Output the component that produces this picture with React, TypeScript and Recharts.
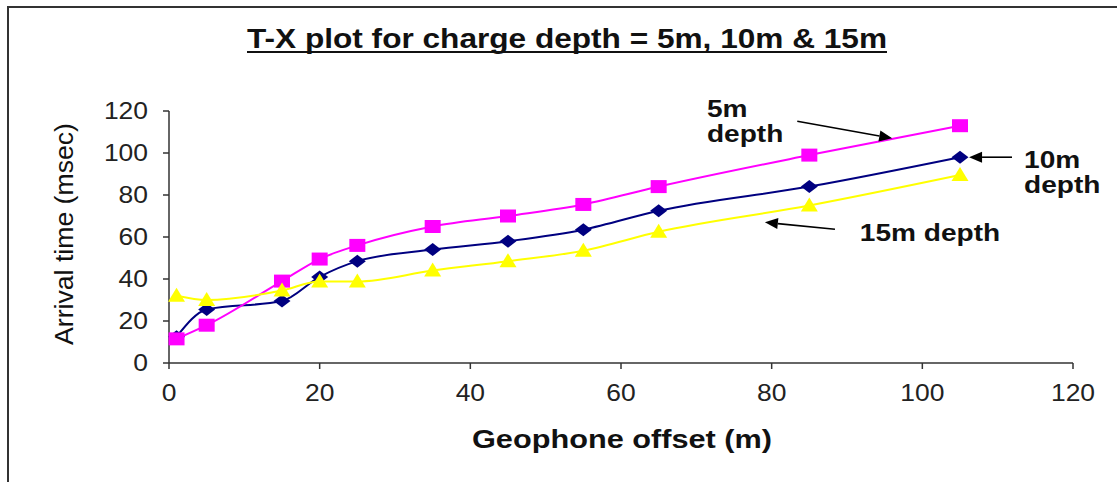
import React from 'react';
import { LineChart, Line, XAxis, YAxis, ReferenceLine, ReferenceDot } from 'recharts';

// geophone offsets (m) and arrival times (msec)
const offsets = [1, 5, 15, 20, 25, 35, 45, 55, 65, 85, 105];
const depth5m = [11.5, 18, 39, 49.5, 56, 65, 70, 75.5, 84, 99, 113];
const depth10m = [12.5, 25.5, 29.5, 41, 48.5, 54, 58, 63.5, 72.5, 84, 98];
const depth15m = [32, 30, 34.5, 38.8, 38.8, 44, 48.5, 53.5, 62.5, 75, 89.5];

const xTicks = [0, 20, 40, 60, 80, 100, 120];
const yTicks = [0, 20, 40, 60, 80, 100, 120];

// callouts, in data units
const arrows = [
    { id: 'a5', from: { x: 83.4, y: 115.1 }, to: { x: 96.0, y: 107.0 } },
    { id: 'a10', from: { x: 111.9, y: 98.0 }, to: { x: 106.2, y: 98.0 } },
    { id: 'a15', from: { x: 88.4, y: 63.7 }, to: { x: 79.1, y: 67.0 } },
];
const notes = [
    { id: 'n5a', text: '5m', x: 71.4, y: 121.3 },
    { id: 'n5b', text: 'depth', x: 71.4, y: 109.4 },
    { id: 'n10a', text: '10m', x: 113.5, y: 97.0 },
    { id: 'n10b', text: 'depth', x: 113.5, y: 85.1 },
    { id: 'n15', text: '15m depth', x: 91.7, y: 62.2 },
];

const data = offsets.map((x, i) => ({ x, d5: depth5m[i], d10: depth10m[i], d15: depth15m[i] }));

const FONT = '"Liberation Sans", Arial, sans-serif';

const XTick = (props: any) => {
    const { x, y, payload } = props;
    return (
        <text transform={`translate(${x},${y + 32}) scale(1.15,1)`} textAnchor="middle"
            fontFamily={FONT} fontSize={23} fill="#222">{payload.value}</text>
    );
};

const YTick = (props: any) => {
    const { x, y, payload } = props;
    return (
        <text transform={`translate(${x - 15},${y + 8}) scale(1.15,1)`} textAnchor="end"
            fontFamily={FONT} fontSize={23} fill="#222">{payload.value}</text>
    );
};

const Square = ({ cx, cy }: any) => (
    <rect x={cx - 8} y={cy - 6.5} width={16} height={13} fill="#FF00FF" />
);
const Diamond = ({ cx, cy }: any) => (
    <polygon points={`${cx - 8.5},${cy} ${cx},${cy - 6.5} ${cx + 8.5},${cy} ${cx},${cy + 6.5}`} fill="#000080" />
);
const Triangle = ({ cx, cy }: any) => (
    <polygon points={`${cx - 8.5},${cy + 6} ${cx},${cy - 8} ${cx + 8.5},${cy + 6}`} fill="#FFFF00" />
);

const ArrowShape = (props: any) => {
    const { x1, y1, x2, y2 } = props;
    const ang = Math.atan2(y2 - y1, x2 - x1);
    const len = 13, half = 5.5;
    const bx = x2 - len * Math.cos(ang), by = y2 - len * Math.sin(ang);
    const px = -Math.sin(ang) * half, py = Math.cos(ang) * half;
    return (
        <g>
            <line x1={x1} y1={y1} x2={bx} y2={by} stroke="#000" strokeWidth={1.6} />
            <polygon points={`${x2},${y2} ${bx + px},${by + py} ${bx - px},${by - py}`} fill="#000" />
        </g>
    );
};

const NoteText = (text: string) => (props: any) => (
    <text transform={`translate(${props.cx},${props.cy}) scale(1.17,1)`} dominantBaseline="central"
        fontFamily={FONT} fontWeight="bold" fontSize={24} fill="#111">{text}</text>
);

export default function App() {
    return (
        <div style={{ position: 'relative', width: 1117, height: 482, background: '#fff' }}>
            <style>{`body{margin:0}`}</style>
            <LineChart width={1117} height={482} data={data}
                margin={{ top: 111, right: 44, bottom: 89, left: 0 }}>
                <XAxis dataKey="x" type="number" domain={[0, 120]} ticks={xTicks} height={30}
                    tickSize={6} tickMargin={0} stroke="#333" strokeWidth={1.5} tick={<XTick />} />
                <YAxis type="number" domain={[0, 120]} ticks={yTicks} width={169}
                    tickSize={6} tickMargin={0} stroke="#333" strokeWidth={1.5} tick={<YTick />} />
                <Line dataKey="d10" type="monotone" stroke="#000080" strokeWidth={2}
                    dot={(p: any) => <Diamond key={`d10-${p.index}`} {...p} />} isAnimationActive={false} />
                <Line dataKey="d5" type="monotone" stroke="#FF00FF" strokeWidth={2}
                    dot={(p: any) => <Square key={`d5-${p.index}`} {...p} />} isAnimationActive={false} />
                <Line dataKey="d15" type="monotone" stroke="#FFFF00" strokeWidth={2}
                    dot={(p: any) => <Triangle key={`d15-${p.index}`} {...p} />} isAnimationActive={false} />
                {arrows.map((a) => (
                    <ReferenceLine key={a.id} segment={[a.from, a.to]} ifOverflow="visible" shape={ArrowShape} />
                ))}
                {notes.map((n) => (
                    <ReferenceDot key={n.id} x={n.x} y={n.y} r={0} ifOverflow="visible" shape={NoteText(n.text)} />
                ))}
                <text x={567} y={48} textAnchor="middle" fontFamily={'"Liberation Sans Narrow", "Liberation Sans", Arial, sans-serif'}
                    fontWeight="bold" fontSize={28} fill="#111" textLength={640} lengthAdjust="spacingAndGlyphs">
                    T-X plot for charge depth = 5m, 10m &amp; 15m
                </text>
                <line x1={247} y1={52} x2={887} y2={52} stroke="#111" strokeWidth={2} />
                <text x={622} y={448} textAnchor="middle" fontFamily={FONT} fontWeight="bold" fontSize={25}
                    fill="#111" textLength={300} lengthAdjust="spacingAndGlyphs">Geophone offset (m)</text>
                <text x={0} y={0} transform="translate(73,234) rotate(-90)" textAnchor="middle" fontFamily={FONT}
                    fontSize={25} fill="#111" textLength={222} lengthAdjust="spacingAndGlyphs">Arrival time (msec)</text>
            </LineChart>
            <div style={{ position: 'absolute', left: 7, top: 6, right: 0, bottom: 0,
                borderTop: '2px solid #333', borderLeft: '2px solid #333', pointerEvents: 'none' }} />
        </div>
    );
}
